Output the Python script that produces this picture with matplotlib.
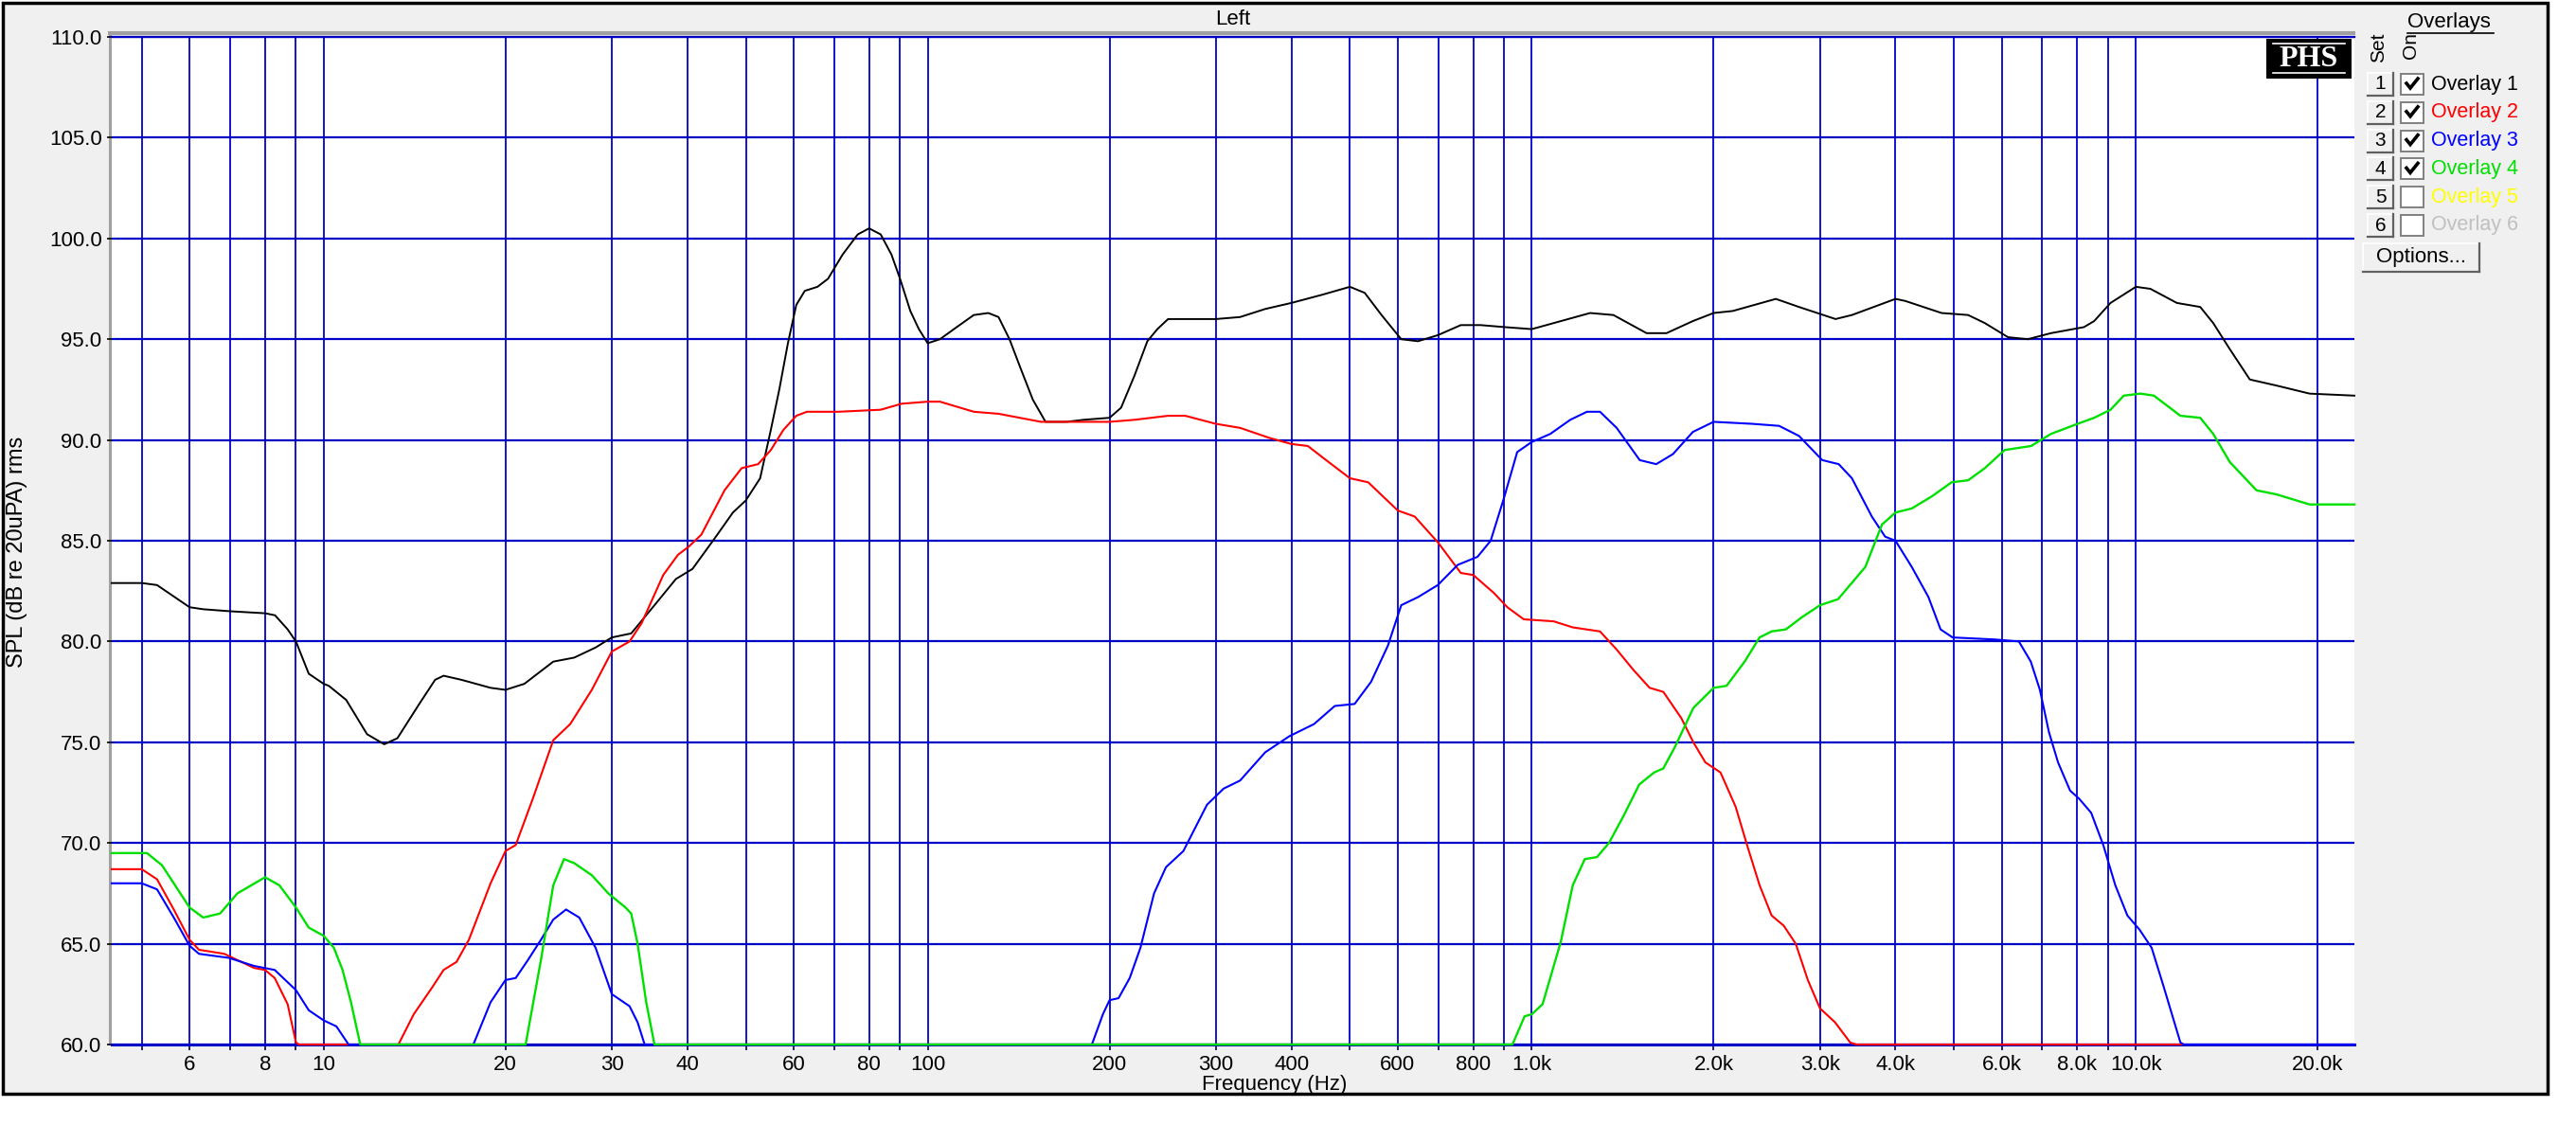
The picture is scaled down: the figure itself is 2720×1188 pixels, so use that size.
import matplotlib
matplotlib.use("Agg")
import matplotlib.pyplot as plt
from matplotlib.patches import Rectangle
from matplotlib.ticker import FixedLocator, FixedFormatter

plt.rcParams['font.family'] = ['Liberation Sans', 'DejaVu Sans']

# --- data (frequency in Hz, SPL in dB) ---
ov1_freq = [4.46, 5.0, 5.3, 6.0, 6.32, 7.0, 8.0, 8.31, 8.72, 9.0, 9.45, 10.0, 10.2, 10.9, 11.8,
            12.6, 13.25, 14.4, 15.3, 15.8, 16.9, 18.9, 20.0, 21.5, 24.0, 26.0, 28.2, 30.0, 32.3,
            35.3, 38.3, 40.8, 44.6, 47.6, 50.0, 52.8, 55.0, 56.8, 58.7, 60.6, 62.6, 65.7, 68.4,
            72.3, 76.6, 80, 83.6, 87.1, 90, 93.6, 96.7, 100, 104.8, 111.7, 119.2, 126, 131,
            136.6, 142.3, 149.3, 156.7, 169.8, 181, 200, 209, 220, 231, 240, 250, 300, 329, 362,
            400, 449, 500, 529, 564, 608, 648, 699, 763, 823, 902, 1000, 1087, 1249, 1365, 1549,
            1671, 1848, 2000, 2151, 2535, 2769, 3183, 3388, 4000, 4150, 4768, 5277, 5623, 6142,
            6623, 7235, 8206, 8530, 9080, 10000, 10570, 11690, 12780, 13430, 14310, 15440, 17090,
            19390, 23000]
ov1_spl = [82.9, 82.9, 82.8, 81.7, 81.6, 81.5, 81.4, 81.3, 80.6, 80.0, 78.4, 77.9, 77.8, 77.1, 75.4,
           74.9, 75.2, 76.9, 78.1, 78.3, 78.1, 77.7, 77.6, 77.9, 79.0, 79.2, 79.7, 80.2, 80.4,
           81.8, 83.1, 83.6, 85.2, 86.4, 87.0, 88.1, 90.5, 92.5, 94.8, 96.7, 97.4, 97.6, 98.0,
           99.2, 100.2, 100.5, 100.2, 99.2, 98.0, 96.4, 95.5, 94.8, 95.0, 95.6, 96.2, 96.3, 96.1,
           95.0, 93.6, 92.0, 90.9, 90.9, 91.0, 91.1, 91.6, 93.2, 94.9, 95.5, 96.0, 96.0, 96.1, 96.5,
           96.8, 97.2, 97.6, 97.3, 96.2, 95.0, 94.9, 95.2, 95.7, 95.7, 95.6, 95.5, 95.8, 96.3, 96.2, 95.3,
           95.3, 95.9, 96.3, 96.4, 97.0, 96.6, 96.0, 96.2, 97.0, 96.9, 96.3, 96.2, 95.8, 95.1,
           95.0, 95.3, 95.6, 95.9, 96.8, 97.6, 97.5, 96.8, 96.6, 95.8, 94.5, 93.0, 92.7,
           92.3, 92.2]

ov2_freq = [4.46, 5.0, 5.3, 5.65, 6.0, 6.22, 6.85, 7.67, 8.0, 8.3, 8.72, 9.0, 9.1, 13.3, 14.1,
            15.1, 15.8, 16.6, 17.4, 18.9, 20.0, 20.8, 22.2, 24.0, 25.6, 27.8, 30.0, 32.1, 33.6,
            36.5, 38.6, 40.2, 42.2, 46.1, 49.2, 52.4, 55.0, 57.7, 60.6, 63.1, 71.2, 83.6, 90.6,
            100, 104.8, 119.2, 131, 154, 200, 220, 250, 267, 300, 329, 368, 400, 426, 452, 500,
            536, 600, 640, 700, 763, 800, 866, 911, 970, 1087, 1169, 1297, 1382, 1472, 1567, 1651,
            1768, 1851, 1938, 2053, 2175, 2277, 2383, 2495, 2612, 2735, 2864, 2999, 3177, 3366,
            3447, 23000]
ov2_spl = [68.7, 68.7, 68.2, 66.7, 65.2, 64.7, 64.5, 63.8, 63.7, 63.3, 62.0, 60.1, 60, 60, 61.5,
           62.8, 63.7, 64.1, 65.2, 68.0, 69.6, 69.9, 72.2, 75.1, 75.9, 77.6, 79.5, 80.0, 80.9,
           83.3, 84.3, 84.7, 85.3, 87.5, 88.6, 88.8, 89.5, 90.5, 91.2, 91.4, 91.4, 91.5, 91.8,
           91.9, 91.9, 91.4, 91.3, 90.9, 90.9, 91.0, 91.2, 91.2, 90.8, 90.6, 90.1, 89.8, 89.7, 89.1, 88.1,
           87.9, 86.5, 86.2, 84.9, 83.4, 83.3, 82.4, 81.7, 81.1, 81.0, 80.7, 80.5, 79.6, 78.6, 77.7, 77.5,
           76.2, 75.0, 74.0, 73.5, 71.8, 69.8, 67.9, 66.4, 65.9, 65.0, 63.2, 61.8, 61.1, 60.1,
           60, 60]

ov3_freq = [4.46, 5.0, 5.3, 5.65, 6.0, 6.22, 6.97, 7.67, 8.3, 9.0, 9.45, 10.0, 10.5, 11.0, 17.7,
            18.9, 20.0, 20.8, 21.8, 22.9, 24.0, 25.2, 26.5, 28.2, 30.0, 32.1, 33.1, 34.0, 187,
            195, 200, 207, 216, 225, 237, 248, 265, 290, 309, 329, 362, 397, 436, 472, 509, 542,
            578, 608, 648, 699, 754, 813, 855, 899, 946, 1000, 1073, 1158, 1234, 1297, 1382, 1509,
            1607, 1713, 1848, 2000, 2320, 2567, 2769, 3026, 3222, 3388, 3655, 3846, 4000, 4256,
            4536, 4750, 4973, 5840, 6403, 6700, 6936, 7180, 7433, 7782, 8054, 8433, 8831, 9247,
            9682, 10140, 10620, 11110, 11500, 11850, 12000, 23000]
ov3_spl = [68.0, 68.0, 67.7, 66.3, 64.9, 64.5, 64.3, 63.9, 63.7, 62.7, 61.7, 61.2, 60.9, 60, 60,
           62.1, 63.2, 63.3, 64.2, 65.2, 66.2, 66.7, 66.3, 64.8, 62.5, 61.9, 61.1, 60, 60,
           61.5, 62.2, 62.3, 63.3, 64.8, 67.5, 68.8, 69.6, 71.9, 72.7, 73.1, 74.5, 75.3, 75.9, 76.8, 76.9, 78.0,
           79.8, 81.8, 82.2, 82.8, 83.8, 84.2, 85.0, 87.1, 89.4, 89.9, 90.3, 91.0, 91.4, 91.4, 90.6, 89.0,
           88.8, 89.3, 90.4, 90.9, 90.8, 90.7, 90.2, 89.0, 88.8, 88.1, 86.2, 85.2, 85.0, 83.7,
           82.2, 80.6, 80.2, 80.1, 80.0, 79.0, 77.6, 75.5, 74.0, 72.6, 72.2, 71.5, 69.9, 67.9,
           66.4, 65.7, 64.8, 62.9, 61.4, 60.1, 60, 60]

ov4_freq = [4.46, 5.1, 5.4, 6.0, 6.32, 6.74, 7.2, 8.0, 8.45, 9.0, 9.45, 10.0, 10.4, 10.75, 11.1,
            11.5, 21.6, 22.9, 24.0, 25.0, 26.0, 27.8, 29.6, 31.6, 32.3, 33.1, 34.2, 35.3, 929,
            973, 1000, 1042, 1117, 1169, 1224, 1282, 1342, 1422, 1506, 1594, 1651, 1728, 1851,
            2000, 2101, 2251, 2383, 2495, 2634, 2799, 3000, 3214, 3566, 3799, 4000, 4256, 4594,
            4955, 5277, 5623, 6063, 6707, 7235, 8005, 8530, 9080, 9550, 10180, 10710, 11850,
            12780, 13430, 14310, 15840, 17090, 19390, 23000]
ov4_spl = [69.5, 69.5, 68.9, 66.8, 66.3, 66.5, 67.5, 68.3, 67.9, 66.8, 65.8, 65.4, 64.8, 63.7, 62.1,
           60, 60, 64.2, 67.9, 69.2, 69.0, 68.4, 67.5, 66.8, 66.5, 65.0, 62.1, 60, 60,
           61.4, 61.5, 62.0, 65.1, 67.9, 69.2, 69.3, 70.0, 71.4, 72.9, 73.5, 73.7, 74.8, 76.7,
           77.7, 77.8, 79.0, 80.2, 80.5, 80.6, 81.2, 81.8, 82.1, 83.7, 85.8, 86.4, 86.6, 87.2,
           87.9, 88.0, 88.6, 89.5, 89.7, 90.3, 90.8, 91.1, 91.5, 92.2, 92.3, 92.2, 91.2,
           91.1, 90.3, 88.9, 87.5, 87.3, 86.8, 86.8]

grid_freqs = [5, 6, 7, 8, 9, 10, 20, 30, 40, 50, 60, 70, 80, 90, 100, 200, 300, 400, 500, 600,
              700, 800, 900, 1000, 2000, 3000, 4000, 5000, 6000, 7000, 8000, 9000, 10000, 20000]
grid_labels = ['', '6', '', '8', '', '10', '20', '30', '40', '', '60', '', '80', '', '100', '200',
               '300', '400', '', '600', '', '800', '', '1.0k', '2.0k', '3.0k', '4.0k', '', '6.0k',
               '', '8.0k', '', '10.0k', '20.0k']
spl_ticks = [60, 65, 70, 75, 80, 85, 90, 95, 100, 105, 110]

overlay_names = ['Overlay 1', 'Overlay 2', 'Overlay 3', 'Overlay 4', 'Overlay 5', 'Overlay 6']
overlay_colors = ['#000000', '#FF0000', '#0000FF', '#00E000', '#FFFF00', '#C0C0C0']
overlay_on = [True, True, True, True, False, False]

W, H = 2720, 1188
GRID = '#0000C8'

fig = plt.figure(figsize=(W / 100, H / 100), dpi=100, facecolor='white')

# background panel (pixel coordinates)
bg = fig.add_axes([0, 0, 1, 1], zorder=0)
bg.set_xlim(0, W)
bg.set_ylim(H, 0)
bg.axis('off')
bg.add_patch(Rectangle((3, 3), 2687, 1152, facecolor='#F0F0F0', edgecolor='black', lw=2.5))
bg.plot([114, 2487], [35, 35], color='#A0A0A0', lw=3.0, solid_capstyle='butt')
bg.plot([116, 116], [33, 1103], color='#A0A0A0', lw=2.2, solid_capstyle='butt')

# main plot
left, right, top, bottom = 118, 2486, 39, 1103
ax = fig.add_axes([left / W, 1 - bottom / H, (right - left) / W, (bottom - top) / H], zorder=1)
ax.set_facecolor('white')
ax.set_xscale('log')
ax.set_xlim(4.46, 23000)
ax.set_ylim(60, 110)

for f in grid_freqs:
    ax.axvline(f, color=GRID, lw=1.3, zorder=1)
for v in spl_ticks:
    ax.axhline(v, color=GRID, lw=1.6, zorder=1)

# curves are not clipped so the parts lying on the 60 dB floor stay visible
ax.plot(ov1_freq, ov1_spl, color=overlay_colors[0], lw=1.4, zorder=3, clip_on=False)
ax.plot(ov2_freq, ov2_spl, color=overlay_colors[1], lw=1.5, zorder=3, clip_on=False)
ax.plot(ov3_freq, ov3_spl, color=overlay_colors[2], lw=1.5, zorder=3, clip_on=False)
ax.plot(ov4_freq, ov4_spl, color=overlay_colors[3], lw=1.7, zorder=3, clip_on=False)

ax.xaxis.set_major_locator(FixedLocator(grid_freqs))
ax.xaxis.set_major_formatter(FixedFormatter(grid_labels))
ax.xaxis.set_minor_locator(FixedLocator([]))
ax.set_yticks(spl_ticks)
ax.set_yticklabels([f'{v:.1f}' for v in spl_ticks])
ax.tick_params(axis='x', direction='out', length=4, width=1.2, color='#000050', labelsize=16, pad=4)
ax.tick_params(axis='y', direction='out', length=3.5, width=1.2, color='black', labelsize=16, pad=4)

for s in ['left', 'right']:
    ax.spines[s].set_visible(False)
ax.spines['top'].set_color(GRID)
ax.spines['top'].set_linewidth(1.6)
ax.spines['bottom'].set_color(GRID)
ax.spines['bottom'].set_linewidth(2.2)

# overlay for text, logo and legend panel
ov = fig.add_axes([0, 0, 1, 1], zorder=3)
ov.set_xlim(0, W)
ov.set_ylim(H, 0)
ov.axis('off')
ov.patch.set_alpha(0)

ov.text(1302, 21, 'Left', ha='center', va='center', fontsize=16)
ov.text(1346, 1145, 'Frequency (Hz)', ha='center', va='center', fontsize=16)
ov.text(18, 583, 'SPL (dB re 20uPA) rms', ha='center', va='center', rotation=90, fontsize=17)

# PHS logo
ov.add_patch(Rectangle((2393, 41), 90, 42, facecolor='black', edgecolor='none'))
ov.plot([2400, 2476], [46, 46], color='white', lw=1.2)
ov.plot([2400, 2476], [77, 77], color='white', lw=1.2)
ov.text(2438, 62, 'PHS', ha='center', va='center', color='white', fontsize=23,
        family='Liberation Serif', weight='bold')


def button(x0, y0, w, h):
    ov.add_patch(Rectangle((x0, y0), w, h, facecolor='#F0F0F0', edgecolor='none'))
    ov.plot([x0, x0 + w], [y0, y0], color='white', lw=1.2)
    ov.plot([x0, x0], [y0, y0 + h], color='white', lw=1.2)
    ov.plot([x0, x0 + w], [y0 + h, y0 + h], color='#606060', lw=1.6)
    ov.plot([x0 + w, x0 + w], [y0, y0 + h], color='#606060', lw=1.6)


# legend panel
ov.text(2542, 24, 'Overlays', ha='left', va='center', fontsize=16)
ov.plot([2542, 2633], [35, 35], color='black', lw=1.2)
ov.text(2512, 50, 'Set', ha='center', va='center', rotation=90, fontsize=15)
ov.text(2546, 48, 'On', ha='center', va='center', rotation=90, fontsize=15)

for i, (name, col, on) in enumerate(zip(overlay_names, overlay_colors, overlay_on)):
    yc = 89 + 29.8 * i
    button(2500, yc - 12, 27, 24)
    ov.text(2513.5, yc, str(i + 1), ha='center', va='center', fontsize=15)
    ov.add_patch(Rectangle((2535, yc - 11), 24, 22, facecolor='white', edgecolor='#808080', lw=1.4))
    if on:
        ov.plot([2541, 2545, 2553], [yc - 1, yc + 4, yc - 6], color='black', lw=2.6,
                solid_joinstyle='miter')
    ov.text(2567, yc, name, ha='left', va='center', fontsize=15.5, color=col)

button(2495, 257, 123, 30)
ov.text(2556, 272, 'Options...', ha='center', va='center', fontsize=16)

fig.savefig('out.png', dpi=100)
